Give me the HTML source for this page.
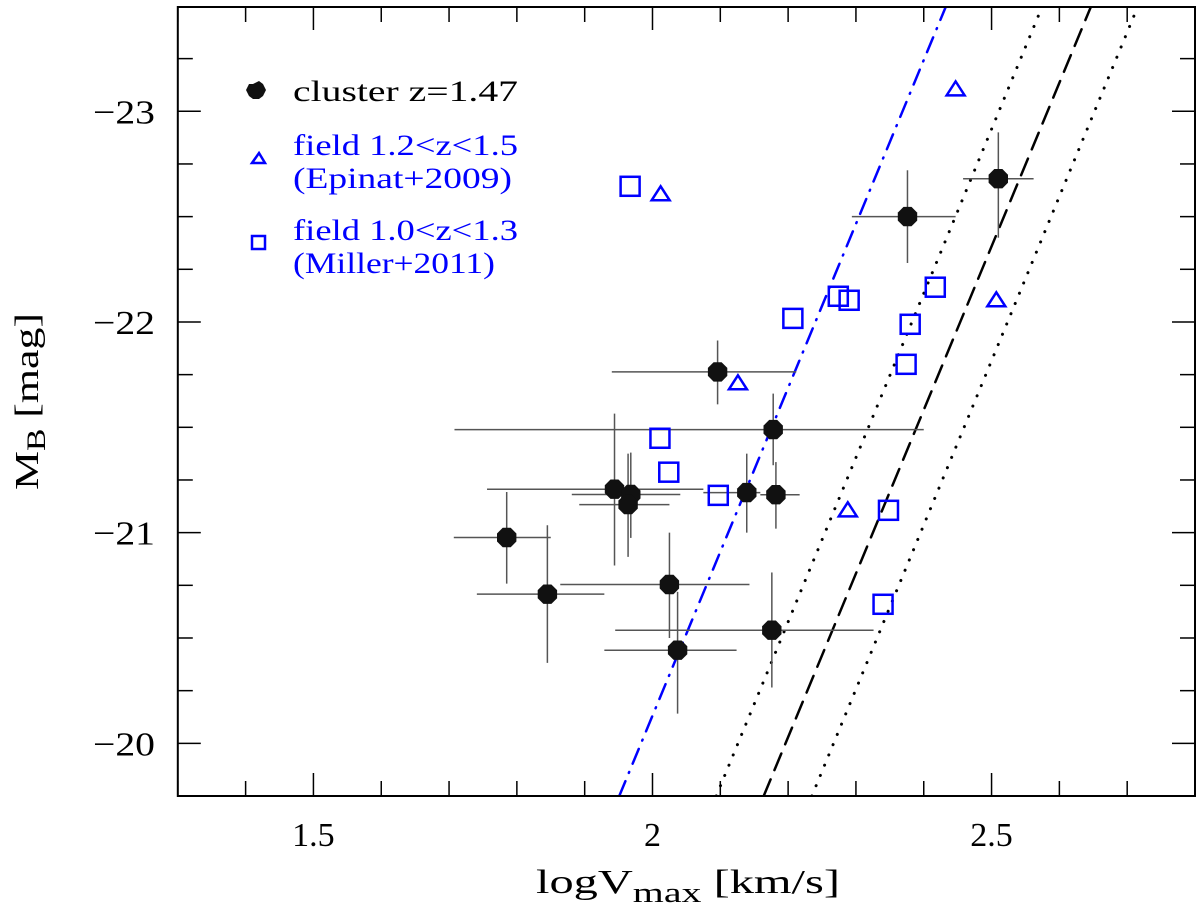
<!DOCTYPE html>
<html><head><meta charset="utf-8"><style>
html,body{margin:0;padding:0;background:#fff;}
svg{display:block;font-family:"Liberation Serif","DejaVu Serif",serif;}
</style></head><body>
<svg id="chart" width="1200" height="912" viewBox="0 0 1200 912" xmlns="http://www.w3.org/2000/svg" xml:space="preserve">
<rect x="0" y="0" width="1200" height="912" fill="#fff"/>
<g id="marks"></g>
<rect x="177.8" y="7" width="1017.2" height="789" fill="none" stroke="#000" stroke-width="2"/>
<g id="axes"></g>
<text x="536" y="893" font-size="34" textLength="304" lengthAdjust="spacingAndGlyphs">logV<tspan font-size="28" dy="9">max</tspan><tspan dy="-9">  [km/s]</tspan></text>
<text transform="translate(38,490) rotate(-90)" font-size="34" textLength="177" lengthAdjust="spacingAndGlyphs">M<tspan font-size="26" dy="7">B</tspan><tspan dy="-7">  [mag]</tspan></text>
<g font-size="30">
<polygon points="253,84 259,81 263,84 266,90 263,96 259,99 253,99 249,96 246,90 249,84" fill="#111"/>
<text x="293" y="101" fill="#000" textLength="225" lengthAdjust="spacingAndGlyphs">cluster  z=1.47</text>
<polygon points="252,163 259,153 265,163" fill="none" stroke="#0000ff" stroke-width="2.5"/>
<text x="293" y="155" fill="#0000ff" textLength="225" lengthAdjust="spacingAndGlyphs">field  1.2&lt;z&lt;1.5</text>
<text x="293" y="188" fill="#0000ff" textLength="219" lengthAdjust="spacingAndGlyphs">(Epinat+2009)</text>
<rect x="252" y="236" width="13" height="13" fill="none" stroke="#0000ff" stroke-width="2.5"/>
<text x="293" y="240" fill="#0000ff" textLength="225" lengthAdjust="spacingAndGlyphs">field  1.0&lt;z&lt;1.3</text>
<text x="293" y="273" fill="#0000ff" textLength="202" lengthAdjust="spacingAndGlyphs">(Miller+2011)</text>
</g>
</svg>
<script>
// ---- data ----
const clusterLogV = [2.096, 2.178, 1.944, 1.968, 1.964, 2.139, 2.182, 1.785, 1.845, 2.025, 2.037, 2.176, 2.376, 2.510];
const clusterMB   = [-21.763, -21.489, -21.206, -21.181, -21.133, -21.19, -21.18, -20.977, -20.708, -20.754, -20.442, -20.537, -22.50, -22.68];
const clusterXlo  = [1.940, 1.708, 1.756, 1.881, 1.892, 2.075, 2.159, 1.707, 1.741, 1.864, 1.929, 1.945, 2.294, 2.458];
const clusterXhi  = [2.212, 2.400, 2.075, 2.041, 2.025, 2.159, 2.217, 1.850, 1.929, 2.143, 2.124, 2.326, 2.447, 2.562];
const clusterYlo  = [-21.912, -21.66, -21.565, -21.38, -21.375, -21.375, -21.335, -21.193, -21.035, -21.0, -20.719, -20.811, -22.72, -22.90];
const clusterYhi  = [-21.609, -21.32, -20.844, -20.975, -20.885, -21.0, -21.019, -20.758, -20.382, -20.5, -20.141, -20.265, -22.28, -22.40];
const millerLogV  = [1.967, 2.274, 2.290, 2.207, 2.417, 2.380, 2.374, 2.011, 2.024, 2.097, 2.348, 2.340];
const millerMB    = [-22.644, -22.122, -22.103, -22.017, -22.165, -21.989, -21.799, -21.448, -21.287, -21.177, -21.106, -20.660];
const epinatLogV  = [2.447, 2.012, 2.126, 2.288, 2.507];
const epinatMB    = [-23.104, -22.606, -21.709, -21.106, -22.103];
const lineMB      = [-19.75, -23.5];
const fitBlue     = [1.951, 2.433];
const fitDashed   = [2.164, 2.647];
const fitDotLow   = [2.094, 2.575];
const fitDotHigh  = [2.235, 2.716];
const xTicks      = [1.5, 2, 2.5];
const xTickLabels = ["1.5", "2", "2.5"];
const yTicks      = [-23, -22, -21, -20];
const yTickLabels = ["\u221223", "\u221222", "\u221221", "\u221220"];

// ---- scales ----
const X0 = 177.8, X1 = 1195, Y0 = 7, Y1 = 796;
const xMin = 1.3, xMax = 2.8, yTop = -23.495, yBot = -19.75;
const sx = v => X0 + (v - xMin) / (xMax - xMin) * (X1 - X0);
const sy = v => Y0 + (v - yTop) / (yBot - yTop) * (Y1 - Y0);
const NS = "http://www.w3.org/2000/svg";
function mk(tag, attrs, parent) {
  const e = document.createElementNS(NS, tag);
  for (const k in attrs) e.setAttribute(k, attrs[k]);
  parent.appendChild(e);
  return e;
}
const marks = document.getElementById('marks');
const axes = document.getElementById('axes');

const defs = mk('defs', {}, marks);
const cp = mk('clipPath', {id: 'pc'}, defs);
mk('rect', {x: X0, y: Y0, width: X1 - X0, height: Y1 - Y0}, cp);
const g = mk('g', {'clip-path': 'url(#pc)'}, marks);

function fitLine(arr, name, color, dash, width) {
  const l = mk('line', {x1: sx(arr[0]), y1: sy(lineMB[0]), x2: sx(arr[1]), y2: sy(lineMB[1]), stroke: color, 'stroke-width': width, 'stroke-dasharray': dash, 'stroke-linecap': 'round'}, g);
  
  
}
fitLine(fitBlue, 'fit-line-dash-dot', '#0000ff', '16 9 1 9', 2.5);
fitLine(fitDashed, 'fit-line-dashed', '#000', '18 10', 2.5);
fitLine(fitDotLow, 'fit-line-dotted-lower', '#000', '0.1 11', 3);
fitLine(fitDotHigh, 'fit-line-dotted-upper', '#000', '0.1 11', 3);

for (let i = 0; i < clusterLogV.length; i++) {
  const cx = sx(clusterLogV[i]), cy = sy(clusterMB[i]);
  const h = mk('line', {x1: sx(clusterXlo[i]), y1: cy, x2: sx(clusterXhi[i]), y2: cy, stroke: '#555', 'stroke-width': 1.5}, g);
  
  
  const v = mk('line', {x1: cx, y1: sy(clusterYlo[i]), x2: cx, y2: sy(clusterYhi[i]), stroke: '#555', 'stroke-width': 1.5}, g);
  
  
}
for (let i = 0; i < clusterLogV.length; i++) {
  const cx = sx(clusterLogV[i]), cy = sy(clusterMB[i]);
  const r = 10.5, pts = [];
  for (let k = 0; k < 8; k++) { const a = Math.PI / 8 + k * Math.PI / 4; pts.push((cx + r * Math.cos(a)).toFixed(1) + ',' + (cy + r * Math.sin(a)).toFixed(1)); }
  const p = mk('polygon', {points: pts.join(' '), fill: '#111'}, g);
  
  
}
for (let i = 0; i < millerLogV.length; i++) {
  const cx = sx(millerLogV[i]), cy = sy(millerMB[i]);
  const s = mk('rect', {x: cx - 9.5, y: cy - 9.5, width: 19, height: 19, fill: 'none', stroke: '#0000ff', 'stroke-width': 2.5}, g);
  
  
}
for (let i = 0; i < epinatLogV.length; i++) {
  const cx = sx(epinatLogV[i]), cy = sy(epinatMB[i]);
  const t = mk('polygon', {points: `${cx - 9},${cy + 6} ${cx},${cy - 8} ${cx + 9},${cy + 6}`, fill: 'none', stroke: '#0000ff', 'stroke-width': 2.5}, g);
  
  
}

for (let k = 13; k <= 28; k++) {
  const v = k / 10, x = sx(v), major = (k % 5 === 0), len = major ? 23 : 15;
  const b = mk('line', {x1: x, y1: Y1, x2: x, y2: Y1 - len, stroke: '#000', 'stroke-width': 1.5}, axes);
  
  
  const t = mk('line', {x1: x, y1: Y0, x2: x, y2: Y0 + len, stroke: '#000', 'stroke-width': 1.5}, axes);
  
  
}
for (let k = -94; k <= -79; k++) {
  const v = k / 4, y = sy(v);
  if (y < Y0 || y > Y1) continue;
  const major = (k % 4 === 0), len = major ? 23 : 15;
  const l = mk('line', {x1: X0, y1: y, x2: X0 + len, y2: y, stroke: '#000', 'stroke-width': 1.5}, axes);
  
  
  const r = mk('line', {x1: X1, y1: y, x2: X1 - len, y2: y, stroke: '#000', 'stroke-width': 1.5}, axes);
  
  
}
xTicks.forEach((v, i) => {
  const t = mk('text', {x: sx(v), y: 846, 'font-size': 34, 'text-anchor': 'middle'}, axes);
  t.textContent = xTickLabels[i];
  
  
});
yTicks.forEach((v, i) => {
  const t = mk('text', {x: 93, y: sy(v) + 12, 'font-size': 34, textLength: 62, lengthAdjust: 'spacingAndGlyphs'}, axes);
  t.textContent = yTickLabels[i];
  
  
});
</script>
</body></html>
